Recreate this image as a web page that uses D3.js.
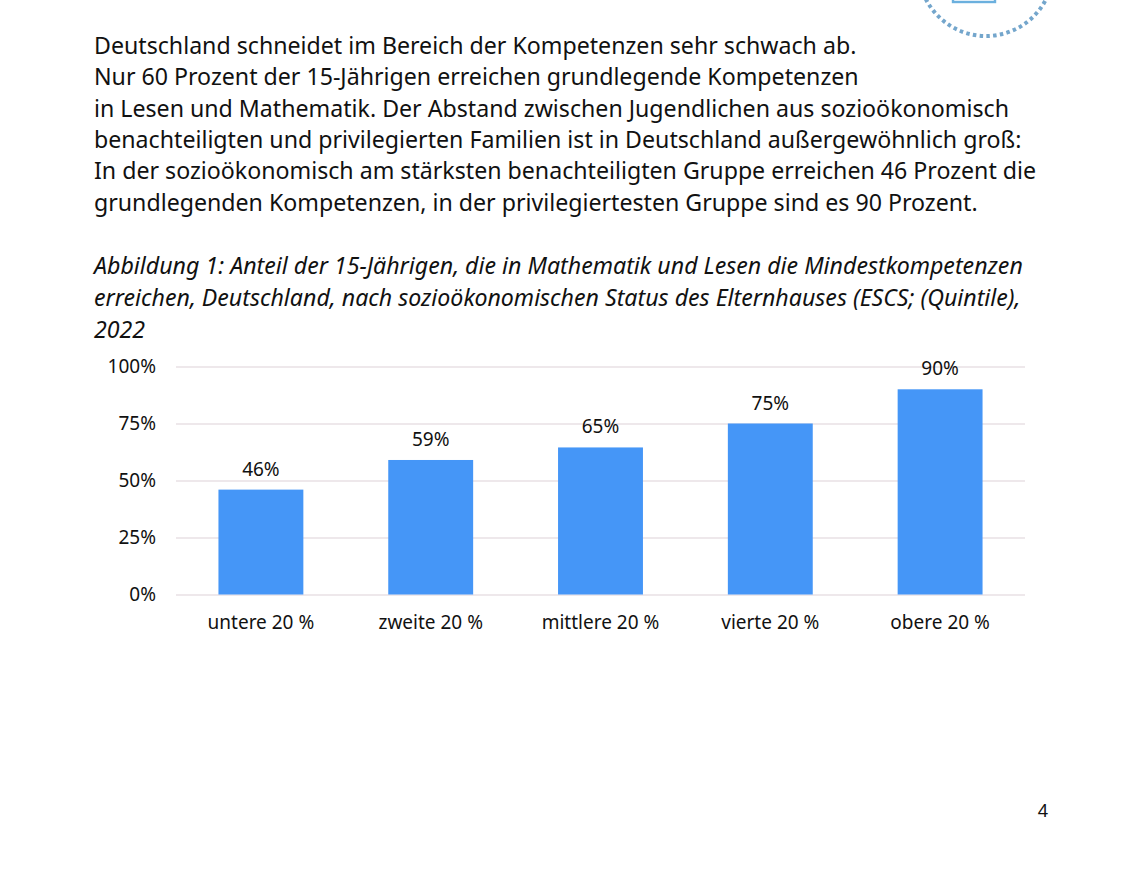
<!DOCTYPE html>
<html>
<head>
<meta charset="utf-8">
<script src="https://cdn.jsdelivr.net/npm/d3@7"></script>
<style>
  html, body { margin: 0; padding: 0; background: #fff; }
  svg { display: block; font-family: "Noto Sans", sans-serif; }
</style>
</head>
<body>
<svg id="chart" width="1144" height="889"></svg>
<script>
const categories = ['untere 20 %', 'zweite 20 %', 'mittlere 20 %', 'vierte 20 %', 'obere 20 %'];
const shares = [46, 59, 64.5, 75, 90];
const yTicks = [0, 25, 50, 75, 100];

const introLines = [
  'Deutschland schneidet im Bereich der Kompetenzen sehr schwach ab.',
  'Nur 60 Prozent der 15-Jährigen erreichen grundlegende Kompetenzen',
  'in Lesen und Mathematik. Der Abstand zwischen Jugendlichen aus sozioökonomisch',
  'benachteiligten und privilegierten Familien ist in Deutschland außergewöhnlich groß:',
  'In der sozioökonomisch am stärksten benachteiligten Gruppe erreichen 46 Prozent die',
  'grundlegenden Kompetenzen, in der privilegiertesten Gruppe sind es 90 Prozent.'
];
const captionLines = [
  'Abbildung 1: Anteil der 15-Jährigen, die in Mathematik und Lesen die Mindestkompetenzen',
  'erreichen, Deutschland, nach sozioökonomischen Status des Elternhauses (ESCS; (Quintile),',
  '2022'
];
const pageNumber = '4';

const svg = d3.select('#chart');

// text above the chart
svg.append('g').selectAll('text')
  .data(introLines)
  .join('text')
  .attr('x', 94)
  .attr('y', (d, i) => 53.8 + i * 31.35)
  .attr('font-size', 23.17)
  .attr('fill', '#111')
  .text(d => d);

svg.append('g').selectAll('text')
  .data(captionLines)
  .join('text')
  .attr('x', 94)
  .attr('y', (d, i) => 274.3 + i * 31.6)
  .attr('font-size', 23.17)
  .attr('font-style', 'italic')
  .attr('fill', '#111')
  .text(d => d);

// cut off logo in the top right corner
svg.append('circle')
  .attr('cx', 986)
  .attr('cy', -31.5)
  .attr('r', 67.5)
  .attr('fill', 'none')
  .attr('stroke', '#74a6cc')
  .attr('stroke-width', 4)
  .attr('stroke-dasharray', '3.5 3.3');
svg.append('rect')
  .attr('x', 953)
  .attr('y', -20)
  .attr('width', 42)
  .attr('height', 22)
  .attr('fill', '#fff')
  .attr('stroke', '#6bb0de')
  .attr('stroke-width', 2.4);

// chart
const x = d3.scaleBand()
  .domain(categories)
  .range([176, 1025])
  .paddingInner(0.5)
  .paddingOuter(0.25);

const y = d3.scaleLinear()
  .domain([0, 100])
  .range([594.5, 366.5]);

const yAxis = d3.axisLeft(y)
  .tickValues(yTicks)
  .tickFormat(d => d + '%')
  .tickSize(-849)
  .tickPadding(20);

const yG = svg.append('g')
  .attr('transform', 'translate(176,0)')
  .call(yAxis);
yG.select('.domain').remove();
yG.selectAll('line').attr('stroke', '#e8e0e4').attr('stroke-width', 1.6);
yG.selectAll('text')
  .attr('font-size', 19)
  .attr('font-family', '"Noto Sans", sans-serif')
  .attr('fill', '#111');

svg.selectAll('.bar')
  .data(shares)
  .join('rect')
  .attr('class', 'bar')
  .attr('x', (d, i) => x(categories[i]))
  .attr('y', d => y(d))
  .attr('width', x.bandwidth())
  .attr('height', d => y(0) - y(d))
  .attr('fill', '#4596f7');

svg.selectAll('.value')
  .data(shares)
  .join('text')
  .attr('class', 'value')
  .attr('x', (d, i) => x(categories[i]) + x.bandwidth() / 2)
  .attr('y', d => y(d) - 14)
  .attr('text-anchor', 'middle')
  .attr('font-size', 19)
  .attr('fill', '#111')
  .text(d => d3.format('.0f')(d) + '%');

const xAxis = d3.axisBottom(x).tickSize(0).tickPadding(21);
const xG = svg.append('g')
  .attr('transform', 'translate(0,594.5)')
  .call(xAxis);
xG.select('.domain').remove();
xG.selectAll('text')
  .attr('font-size', 19)
  .attr('font-family', '"Noto Sans", sans-serif')
  .attr('fill', '#111');

svg.append('text')
  .attr('x', 1048)
  .attr('y', 817)
  .attr('text-anchor', 'end')
  .attr('font-size', 18)
  .attr('fill', '#111')
  .text(pageNumber);
</script>
</body>
</html>
